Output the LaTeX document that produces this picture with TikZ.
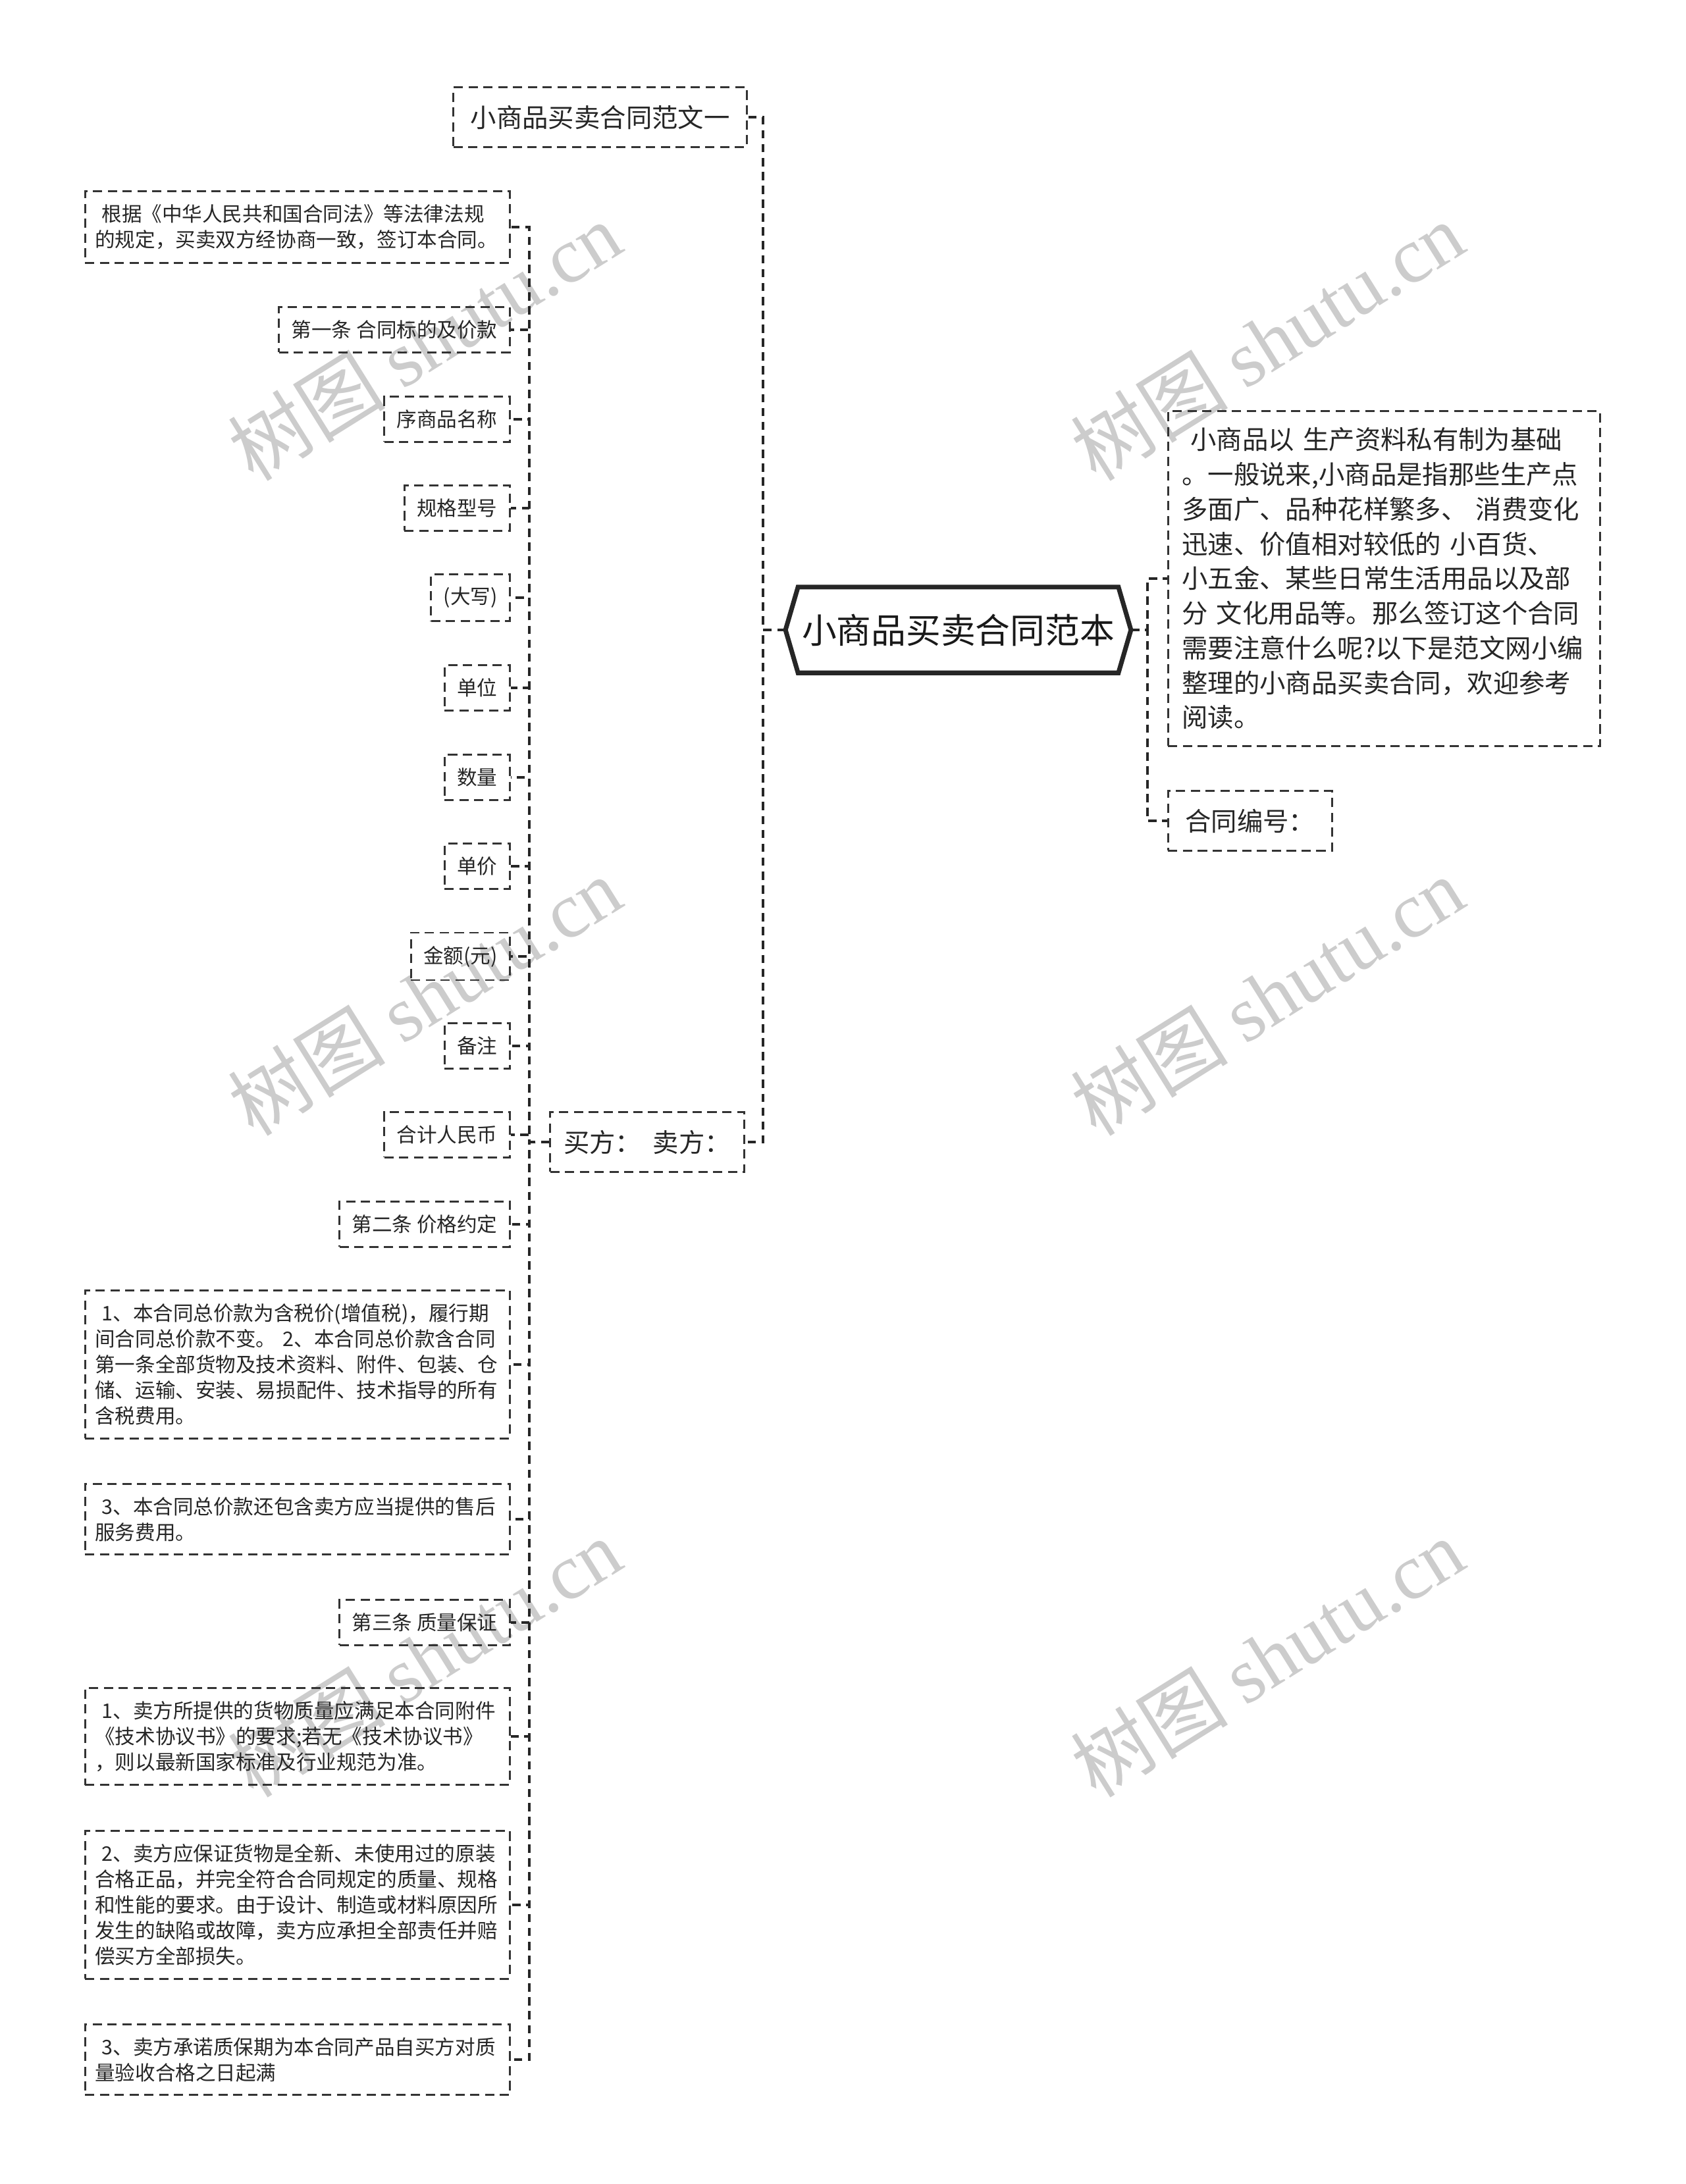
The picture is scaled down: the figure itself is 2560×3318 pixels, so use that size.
\documentclass[tikz,border=0pt]{standalone}
\usepackage{fontspec}
\setmainfont{Noto Sans CJK SC}
\newfontfamily\wmfont{Liberation Serif}
\usetikzlibrary{calc}
\begin{document}
\begin{tikzpicture}[x=0.01cm,y=-0.01cm,
  wm/.style={text=black!20, font=\fontsize{34}{36}\selectfont, rotate=32, inner sep=0},
  leaf/.style={draw=black!80, dash pattern=on 4pt off 2.4pt, line width=0.8pt,
    inner xsep=0.19cm, inner ysep=0.2cm, font=\fontsize{8.7}{11.1}\selectfont,
    text=black!85, align=left, anchor=east},
  leafw/.style={leaf, inner xsep=0.15cm, text width=6.15cm},
  lvl/.style={draw=black!80, dash pattern=on 4pt off 2.4pt, line width=0.8pt,
    inner xsep=0.26cm, inner ysep=0.27cm, font=\fontsize{11.2}{15}\selectfont,
    text=black!85, align=left},
  conn/.style={draw=black!85, dash pattern=on 3.6pt off 2.4pt, line width=1.3pt}]
\useasboundingbox (0,0) rectangle (2560,3318);
\fill[white] (0,0) rectangle (2560,3318);
% watermarks
\node[wm] (w1) at (645,518) {树图 {\wmfont shutu.cn}};
\node[wm] (w2) at (1925,518) {树图 {\wmfont shutu.cn}};
\node[wm] (w3) at (645,1513) {树图 {\wmfont shutu.cn}};
\node[wm] (w4) at (1925,1513) {树图 {\wmfont shutu.cn}};
\node[wm] (w5) at (645,2518) {树图 {\wmfont shutu.cn}};
\node[wm] (w6) at (1925,2518) {树图 {\wmfont shutu.cn}};
% root
\node[minimum width=4.85cm, minimum height=1.29cm, inner sep=0,
  font=\fontsize{15}{18}\selectfont, text=black!90] (root) at (1455.5,957) {小商品买卖合同范本};
\coordinate (rootL) at ($(root.west)+(-0.19cm,0)$);
\coordinate (rootR) at ($(root.east)+(0.19cm,0)$);
\draw[black!85, line width=2pt, line join=miter] (root.north west) -- (root.north east) -- (rootR)
  -- (root.south east) -- (root.south west) -- (rootL) -- cycle;
% level 1
\node[lvl, anchor=east] (n1) at (1136,178) {小商品买卖合同范文一};
\node[lvl, anchor=east, inner xsep=0.205cm] (n2) at (1132,1735) {买方：\ \ 卖方：};
\node[lvl, anchor=west, text width=6.14cm, inner xsep=0.21cm, inner ysep=0.25cm] (r1) at (1773,879)
 {\ 小商品以 生产资料私有制为基础\\。一般说来,小商品是指那些生产点\\多面广、品种花样繁多、 消费变化\\迅速、价值相对较低的 小百货、\\小五金、某些日常生活用品以及部\\分 文化用品等。那么签订这个合同\\需要注意什么呢?以下是范文网小编\\整理的小商品买卖合同，欢迎参考\\阅读。};
\node[lvl, anchor=west] (r2) at (1773,1247) {合同编号：};
% leaves
\node[leafw] (a1) at (776,345) {\ 根据《中华人民共和国合同法》等法律法规\\的规定，买卖双方经协商一致，签订本合同。};
\node[leaf] (a2) at (776,501) {第一条 合同标的及价款};
\node[leaf] (a3) at (776,637) {序商品名称};
\node[leaf] (a4) at (776,772) {规格型号};
\node[leaf] (a5) at (776,908) {(大写)};
\node[leaf] (a6) at (776,1045) {单位};
\node[leaf] (a7) at (776,1181) {数量};
\node[leaf] (a8) at (776,1316) {单价};
\node[leaf] (a9) at (776,1453) {金额(元)};
\node[leaf] (a10) at (776,1589) {备注};
\node[leaf] (a11) at (776,1724) {合计人民币};
\node[leaf] (a12) at (776,1860) {第二条 价格约定};
\node[leafw] (a13) at (776,2073) {\ 1、本合同总价款为含税价(增值税)，履行期\\间合同总价款不变。 2、本合同总价款含合同\\第一条全部货物及技术资料、附件、包装、仓\\储、运输、安装、易损配件、技术指导的所有\\含税费用。};
\node[leafw] (a14) at (776,2308) {\ 3、本合同总价款还包含卖方应当提供的售后\\服务费用。};
\node[leaf] (a15) at (776,2465) {第三条 质量保证};
\node[leafw] (a16) at (776,2638) {\ 1、卖方所提供的货物质量应满足本合同附件\\《技术协议书》的要求;若无《技术协议书》\\，则以最新国家标准及行业规范为准。};
\node[leafw] (a17) at (776,2894) {\ 2、卖方应保证货物是全新、未使用过的原装\\合格正品，并完全符合合同规定的质量、规格\\和性能的要求。由于设计、制造或材料原因所\\发生的缺陷或故障，卖方应承担全部责任并赔\\偿买方全部损失。};
\node[leafw] (a18) at (776,3129) {\ 3、卖方承诺质保期为本合同产品自买方对质\\量验收合格之日起满};
% connectors
\foreach \t in {n1,n2} \draw[conn] (rootL) -- ++(-34,0) |- (\t.east);
\foreach \t in {r1,r2} \draw[conn] (rootR) -- ++(25,0) |- (\t.west);
\foreach \t in {a1,a2,a3,a4,a5,a6,a7,a8,a9,a10,a11,a12,a13,a14,a15,a16,a17,a18}
  \draw[conn] (n2.west) -- ++(-30,0) |- (\t.east);
\end{tikzpicture}
\end{document}
